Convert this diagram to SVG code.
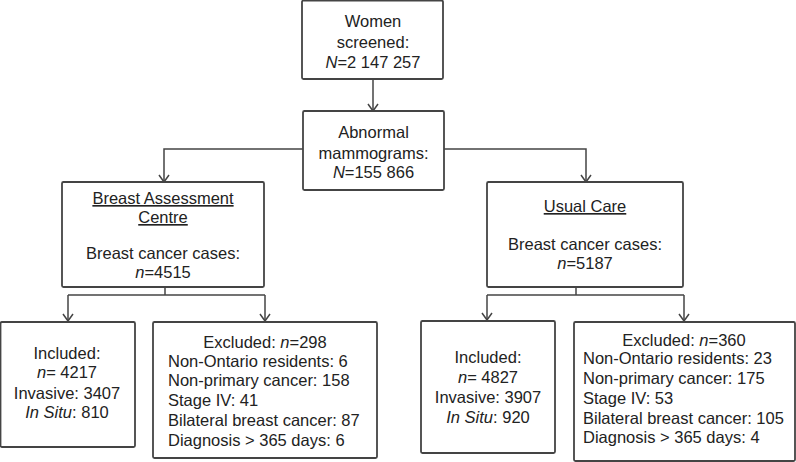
<svg xmlns="http://www.w3.org/2000/svg" width="796" height="462" viewBox="0 0 796 462">
<style>
.box{fill:#fff;stroke:#444;stroke-width:1.8}
.t{font-family:"Liberation Sans",Arial,sans-serif;font-size:16.5px;fill:#222}
.c{text-anchor:middle}
.u{text-decoration:underline}
.ln{fill:none;stroke:#444;stroke-width:1.5}
</style>
<defs>
<marker id="v" viewBox="0 0 12 12" refX="6" refY="11" markerWidth="12" markerHeight="12" markerUnits="userSpaceOnUse" orient="0">
<polyline points="1,4 6,11 11,4" fill="none" stroke="#444" stroke-width="1.5"/>
</marker>
</defs>
<rect width="796" height="462" fill="#fff"/>
<g id="connectors">
<path class="ln" d="M373,79 V111" marker-end="url(#v)"/>
<path class="ln" d="M303,149 H164 V182" marker-end="url(#v)"/>
<path class="ln" d="M444,149 H586 V182" marker-end="url(#v)"/>
<path class="ln" d="M165,287 V295"/>
<path class="ln" d="M68,295 H265"/>
<path class="ln" d="M68,295 V321" marker-end="url(#v)"/>
<path class="ln" d="M265,295 V321" marker-end="url(#v)"/>
<path class="ln" d="M576,287 V295"/>
<path class="ln" d="M487,295 H684"/>
<path class="ln" d="M487,295 V320" marker-end="url(#v)"/>
<path class="ln" d="M684,295 V321" marker-end="url(#v)"/>
</g>
<g id="women">
<rect class="box" x="302" y="0.5" width="141" height="78.5" rx="1.5"/>
<text class="t c" x="373" y="27">Women</text>
<text class="t c" x="373" y="48">screened:</text>
<text class="t c" x="373" y="68"><tspan font-style="italic">N</tspan>=2 147 257</text>
</g>
<g id="abnormal">
<rect class="box" x="303" y="111" width="141" height="79" rx="1.5"/>
<text class="t c" x="373.5" y="138">Abnormal</text>
<text class="t c" x="373.5" y="159">mammograms:</text>
<text class="t c" x="373.5" y="178"><tspan font-style="italic">N</tspan>=155 866</text>
</g>
<g id="bac">
<rect class="box" x="62" y="182" width="202" height="105" rx="1.5"/>
<text class="t c u" x="163" y="204">Breast Assessment</text>
<text class="t c u" x="163" y="223">Centre</text>
<text class="t c" x="163" y="259">Breast cancer cases:</text>
<text class="t c" x="163" y="278"><tspan font-style="italic">n</tspan>=4515</text>
</g>
<g id="usual">
<rect class="box" x="487" y="182" width="196" height="105" rx="1.5"/>
<text class="t c u" x="585" y="212">Usual Care</text>
<text class="t c" x="585" y="250">Breast cancer cases:</text>
<text class="t c" x="585" y="269"><tspan font-style="italic">n</tspan>=5187</text>
</g>
<g id="incl-bac">
<rect class="box" x="0.5" y="322" width="134.5" height="125" rx="1.5"/>
<text class="t c" x="67" y="359">Included:</text>
<text class="t c" x="67" y="378"><tspan font-style="italic">n</tspan>= 4217</text>
<text class="t c" x="67" y="399">Invasive: 3407</text>
<text class="t c" x="67" y="418"><tspan font-style="italic">In Situ</tspan>: 810</text>
</g>
<g id="excl-bac">
<rect class="box" x="153" y="322" width="224" height="136" rx="1.5"/>
<text class="t c" x="265" y="348">Excluded: <tspan font-style="italic">n</tspan>=298</text>
<text class="t" x="168" y="367">Non-Ontario residents: 6</text>
<text class="t" x="168" y="386">Non-primary cancer: 158</text>
<text class="t" x="168" y="406">Stage IV: 41</text>
<text class="t" x="168" y="426">Bilateral breast cancer: 87</text>
<text class="t" x="168" y="446">Diagnosis &gt; 365 days: 6</text>
</g>
<g id="incl-uc">
<rect class="box" x="421" y="321" width="134" height="132" rx="1.5"/>
<text class="t c" x="488" y="363">Included:</text>
<text class="t c" x="488" y="383"><tspan font-style="italic">n</tspan>= 4827</text>
<text class="t c" x="488" y="403">Invasive: 3907</text>
<text class="t c" x="488" y="423"><tspan font-style="italic">In Situ</tspan>: 920</text>
</g>
<g id="excl-uc">
<rect class="box" x="574" y="322" width="221" height="139" rx="1.5"/>
<text class="t c" x="684" y="346">Excluded: <tspan font-style="italic">n</tspan>=360</text>
<text class="t" x="583" y="364">Non-Ontario residents: 23</text>
<text class="t" x="583" y="384">Non-primary cancer: 175</text>
<text class="t" x="583" y="404">Stage IV: 53</text>
<text class="t" x="583" y="424">Bilateral breast cancer: 105</text>
<text class="t" x="583" y="443">Diagnosis &gt; 365 days: 4</text>
</g>
</svg>
